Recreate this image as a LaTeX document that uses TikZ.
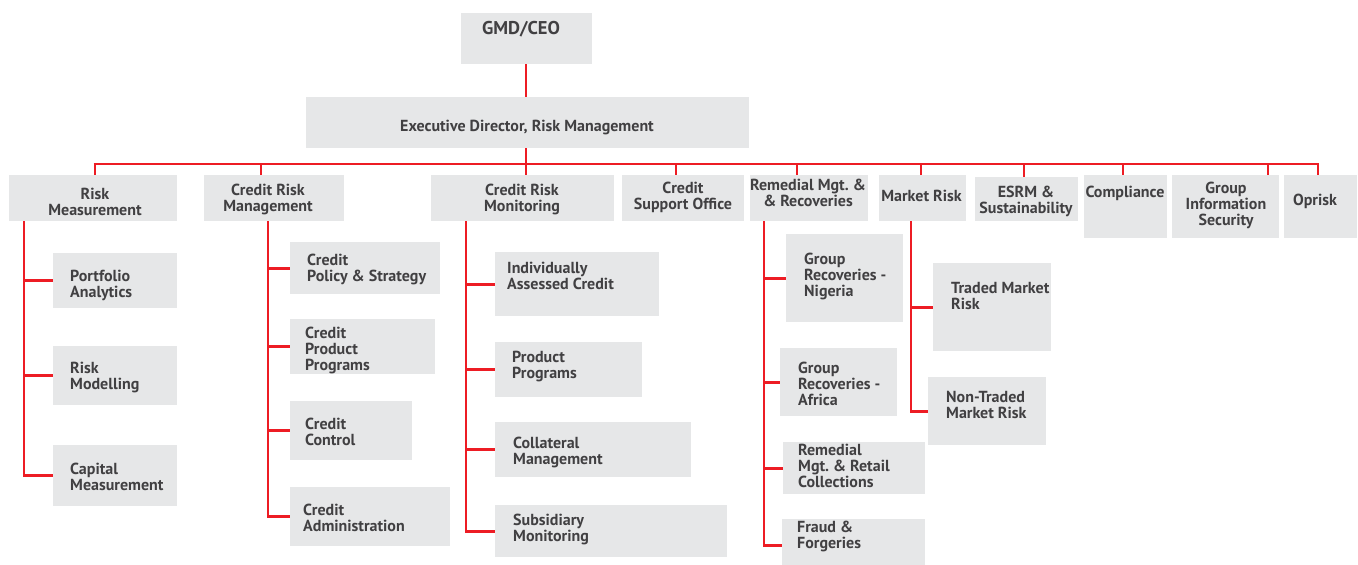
\documentclass[tikz,border=0pt]{standalone}
\usepackage{fontspec}
\setmainfont{PT Sans}
\definecolor{boxgray}{HTML}{E6E7E8}
\definecolor{linered}{HTML}{ED1C24}
\definecolor{txtgray}{HTML}{414042}
\tikzset{
  box/.style={fill=boxgray, draw=none, inner sep=0pt, anchor=north west},
  conn/.style={draw=linered, line width=2.8pt},
  lbl/.style={font=\bfseries\fontsize{16}{15.6}\selectfont, text=txtgray, inner sep=0pt, align=left, anchor=base west},
  clbl/.style={font=\bfseries\fontsize{16}{15.6}\selectfont, text=txtgray, inner sep=0pt, align=center, anchor=base},
}
\newcommand{\bx}[5]{\node[box, minimum width=#4pt-#2pt, minimum height=#5pt-#3pt] (#1) at (#2,#3) {};}
\begin{document}
\begin{tikzpicture}[x=1pt,y=-1pt]
\useasboundingbox (0,0) rectangle (1358,565);
% level 0/1
\bx{gmd}{461}{13}{592}{64}
\bx{ed}{306}{97}{749}{148}
% level 2
\bx{rm}{9}{175}{177}{221}
\bx{crm}{204}{175}{344}{221}
\bx{crmon}{431}{175}{614}{221}
\bx{cso}{622}{175}{744}{221}
\bx{rem}{750}{175}{868}{221}
\bx{mr}{879}{175}{966}{221}
\bx{esrm}{975}{177}{1078}{221}
\bx{comp}{1084}{175}{1167}{238}
\bx{gis}{1172}{175}{1279}{238}
\bx{op}{1284}{175}{1357}{238}
% level 3
\bx{pa}{53}{253}{177}{308}
\bx{rmod}{53}{346}{177}{405}
\bx{cap}{53}{445}{177}{506}
\bx{cps}{290}{242}{440}{294}
\bx{cpp}{290}{319}{435}{374}
\bx{cc}{290}{401}{412}{460}
\bx{ca}{290}{487}{450}{546}
\bx{iac}{495}{252}{659}{316}
\bx{pp}{495}{342}{642}{397}
\bx{cm}{495}{422}{691}{477}
\bx{sm}{495}{505}{727}{557}
\bx{grn}{786}{234}{903}{322}
\bx{gra}{780}{348}{897}{416}
\bx{rmr}{783}{442}{925}{494}
\bx{ff}{782}{519}{925}{565}
\bx{tmr}{933}{263}{1051}{351}
\bx{ntm}{928}{377}{1046}{445}
% texts (anchored at baseline of last line)
\node[clbl, font=\bfseries\fontsize{18.5}{18}\selectfont] (lgmd) at (521,34.5) {GMD/CEO};
\node[clbl] (led) at (527,131) {Executive Director, Risk Management};
\node[clbl] (lrm) at (95,215) {Risk\\Measurement};
\node[clbl] (lcrm) at (268,211) {Credit Risk\\Management};
\node[clbl] (lcrmon) at (522,211) {Credit Risk\\Monitoring};
\node[clbl] (lcso) at (683,209) {Credit\\Support Office};
\node[clbl] (lrem) at (808,206) {Remedial Mgt.\ \&\\\& Recoveries};
\node[clbl] (lmr) at (921.5,201) {Market Risk};
\node[clbl] (lesrm) at (1026,213) {ESRM \&\\Sustainability};
\node[clbl] (lcomp) at (1125,197) {Compliance};
\node[clbl] (lgis) at (1226,225) {Group\\Information\\Security};
\node[clbl] (lop) at (1315,205) {Oprisk};
\node[lbl] (lpa) at (70,297) {Portfolio\\Analytics};
\node[lbl] (lrmod) at (70,389) {Risk\\Modelling};
\node[lbl] (lcap) at (70,490) {Capital\\Measurement};
\node[lbl] (lcps) at (307,281) {Credit\\Policy \& Strategy};
\node[lbl] (lcpp) at (305,370) {Credit\\Product\\Programs};
\node[lbl] (lcc) at (305,445) {Credit\\Control};
\node[lbl] (lca) at (303,531) {Credit\\Administration};
\node[lbl] (liac) at (507,289) {Individually\\Assessed Credit};
\node[lbl] (lpp) at (512,378) {Product\\Programs};
\node[lbl] (lcm) at (513,464) {Collateral\\Management};
\node[lbl] (lsm) at (513,541) {Subsidiary\\Monitoring};
\node[lbl] (lgrn) at (804,296) {Group\\Recoveries -\\Nigeria};
\node[lbl] (lgra) at (798,405) {Group\\Recoveries -\\Africa};
\node[lbl] (lrmr) at (798,487) {Remedial\\Mgt.\ \& Retail\\Collections};
\node[lbl] (lff) at (797,548) {Fraud \&\\Forgeries};
\node[lbl] (ltmr) at (951,309) {Traded Market\\Risk};
\node[lbl] (lntm) at (946,418) {Non-Traded\\Market Risk};
% bus coordinates
\coordinate (b1) at (95,164);
\coordinate (b2) at (261,164);
\coordinate (b3) at (526,164);
\coordinate (b4) at (676,164);
\coordinate (b5) at (797,164);
\coordinate (b6) at (921,164);
\coordinate (b7) at (1024,164);
\coordinate (b8) at (1123,164);
\coordinate (b9) at (1268,164);
\coordinate (b10) at (1318,164);
\draw[conn] (gmd.south -| b3) -- (ed.north -| b3);
\draw[conn] (ed.south -| b3) -- (b3);
\draw[conn] ([xshift=-1.4pt]b1) -- ([xshift=1.4pt]b10);
\draw[conn] (b1) -- (b1 |- rm.north);
\draw[conn] (b2) -- (b2 |- crm.north);
\draw[conn] (b3) -- (b3 |- crmon.north);
\draw[conn] (b4) -- (b4 |- cso.north);
\draw[conn] (b5) -- (b5 |- rem.north);
\draw[conn] (b6) -- (b6 |- mr.north);
\draw[conn] (b7) -- (b7 |- esrm.north);
\draw[conn] (b8) -- (b8 |- comp.north);
\draw[conn] (b9) -- (b9 |- gis.north);
\draw[conn] (b10) -- (b10 |- op.north);
% column trunks
\coordinate (c1) at (24,221);
\coordinate (c2) at (268,221);
\coordinate (c3) at (466,221);
\coordinate (c5) at (764,221);
\coordinate (c6) at (911,221);
\draw[conn] (c1 |- rm.south) |- (cap.west);
\draw[conn] (pa.west -| c1) -- (pa.west);
\draw[conn] (rmod.west -| c1) -- (rmod.west);
\draw[conn] (c2 |- crm.south) |- (ca.west);
\draw[conn] (cps.west -| c2) -- (cps.west);
\draw[conn] (cpp.west -| c2) -- (cpp.west);
\draw[conn] (cc.west -| c2) -- (cc.west);
\draw[conn] (c3 |- crmon.south) |- (sm.west);
\draw[conn] (iac.west -| c3) -- (iac.west);
\draw[conn] (pp.west -| c3) -- (pp.west);
\draw[conn] (cm.west -| c3) -- (cm.west);
\draw[conn] (c5 |- rem.south) |- ([yshift=-3pt]ff.west);
\draw[conn] (grn.west -| c5) -- (grn.west);
\draw[conn] (gra.west -| c5) -- (gra.west);
\draw[conn] (rmr.west -| c5) -- (rmr.west);
\draw[conn] (c6 |- mr.south) |- (ntm.west);
\draw[conn] (tmr.west -| c6) -- (tmr.west);
\end{tikzpicture}
\end{document}
